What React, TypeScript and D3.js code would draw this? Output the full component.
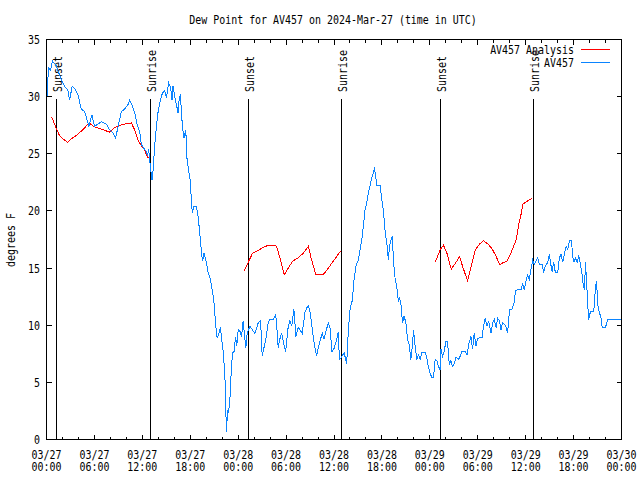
import React from 'react';
import * as d3 from 'd3';

const W = 640;
const H = 480;

const chartTitle = 'Dew Point for AV457 on 2024-Mar-27 (time in UTC)';
const yAxisLabel = 'degrees F';
const seriesNames = ['AV457 Analysis', 'AV457'];
const seriesColors = ['#ff0000', '#0a84ff'];

const xMajorTickHours = [0, 6, 12, 18, 24, 30, 36, 42, 48, 54, 60, 66, 72];
const xTickDates = ['03/27', '03/27', '03/27', '03/27', '03/28', '03/28', '03/28', '03/28', '03/29', '03/29', '03/29', '03/29', '03/30'];
const xTickTimes = ['00:00', '06:00', '12:00', '18:00', '00:00', '06:00', '12:00', '18:00', '00:00', '06:00', '12:00', '18:00', '00:00'];
const xMinorTickHours = d3.range(0, 73, 2);
const yTickValues = [0, 5, 10, 15, 20, 25, 30, 35];

const sunEventHours = [1.25, 13.0, 25.28, 36.95, 49.33, 60.98];
const sunEventLabels = ['Sunset', 'Sunrise', 'Sunset', 'Sunrise', 'Sunset', 'Sunrise'];

// AV457 observations: [hours since 03/27 00:00 UTC, dew point F]
const av457Obs: [number, number][] = [
  [0.0, 29.2], [0.25, 32.5], [0.5, 32.3], [0.75, 33.1], [1.0, 32.9], [1.22, 32.7], [1.84, 31.5], [2.26, 30.9],
  [2.67, 30.6], [2.89, 29.7], [3.22, 30.9], [3.55, 30.7], [3.93, 30.2], [4.35, 28.9], [4.77, 28.7], [5.06, 28.0],
  [5.31, 27.4], [5.68, 28.4], [6.02, 27.4], [6.44, 27.6], [6.86, 27.8], [7.2, 27.7], [7.49, 27.6], [7.9, 27.1],
  [8.32, 26.8], [8.66, 26.4], [8.94, 27.3], [9.37, 28.7], [9.78, 28.9], [10.2, 29.3], [10.41, 29.7], [10.75, 29.2],
  [11.04, 28.6], [11.33, 27.6], [11.67, 26.9], [11.88, 25.8], [12.17, 25.5], [12.51, 25.2], [12.63, 24.8], [12.79, 25.4],
  [13.01, 23.9], [13.21, 22.7], [13.33, 23.4], [13.55, 25.7], [13.76, 27.4], [13.96, 28.6], [14.26, 29.7], [14.51, 30.3],
  [14.8, 30.5], [15.01, 29.9], [15.3, 31.2], [15.55, 30.8], [15.72, 29.7], [15.84, 30.9], [16.14, 29.7], [16.27, 29.3],
  [16.47, 28.6], [16.6, 29.7], [16.77, 30.2], [16.9, 28.6], [17.02, 27.4], [17.22, 26.4], [17.44, 27.1], [17.6, 24.5],
  [17.81, 23.5], [18.03, 22.5], [18.15, 20.6], [18.28, 19.8], [18.44, 20.4], [18.78, 20.4], [18.98, 19.5], [19.19, 18.1],
  [19.41, 16.3], [19.53, 15.6], [19.73, 16.3], [20.03, 15.5], [20.23, 14.6], [20.53, 14.0], [20.74, 13.1], [20.95, 12.2],
  [21.2, 9.9], [21.36, 8.9], [21.61, 9.3], [21.79, 9.8], [21.91, 8.9], [22.12, 7.7], [22.33, 5.8], [22.45, 2.6],
  [22.54, 0.7], [22.67, 2.6], [22.79, 2.3], [22.96, 3.5], [23.12, 5.8], [23.29, 7.6], [23.5, 7.7], [23.67, 9.0],
  [23.83, 8.2], [24.0, 9.6], [24.21, 9.5], [24.42, 9.0], [24.62, 10.4], [24.96, 8.0], [25.13, 9.3], [25.46, 9.9],
  [25.88, 9.5], [26.09, 9.3], [26.51, 10.2], [26.81, 10.4], [27.01, 7.3], [27.22, 8.0], [27.47, 8.8], [27.76, 10.2],
  [27.97, 10.5], [28.39, 10.5], [28.69, 10.9], [28.81, 10.2], [29.01, 8.0], [29.14, 8.6], [29.44, 9.3], [29.64, 8.6],
  [29.94, 7.7], [30.27, 9.9], [30.48, 10.4], [30.7, 9.9], [30.98, 11.4], [31.23, 9.0], [31.52, 9.8], [31.82, 9.5],
  [32.02, 9.3], [32.36, 11.1], [32.58, 11.5], [32.78, 11.7], [32.99, 11.2], [33.2, 10.1], [33.4, 9.0], [33.62, 8.0],
  [33.83, 7.3], [34.03, 8.0], [34.24, 8.6], [34.53, 9.3], [34.75, 8.8], [35.0, 9.5], [35.29, 10.2], [35.5, 9.8],
  [35.75, 7.7], [36.04, 8.0], [36.34, 8.8], [36.54, 9.4], [36.67, 7.0], [36.88, 7.1], [37.09, 7.4], [37.26, 7.6],
  [37.47, 7.0], [37.59, 6.6], [37.8, 9.6], [38.01, 11.4], [38.3, 12.2], [38.51, 14.0], [38.76, 15.2], [39.05, 15.7],
  [39.26, 16.6], [39.48, 17.5], [39.68, 18.7], [39.89, 20.1], [40.1, 20.7], [40.3, 21.6], [40.52, 22.2], [40.73, 22.9],
  [40.93, 23.3], [41.06, 23.8], [41.23, 23.0], [41.36, 22.2], [41.77, 22.2], [41.99, 21.0], [42.19, 20.0], [42.4, 18.2],
  [42.61, 17.2], [42.81, 15.7], [42.94, 16.9], [43.15, 17.5], [43.31, 17.8], [43.44, 15.7], [43.65, 14.1], [43.87, 13.3],
  [44.07, 12.0], [44.19, 12.5], [44.41, 11.7], [44.57, 10.2], [44.78, 10.8], [45.0, 10.2], [45.2, 8.8], [45.41, 8.3],
  [45.62, 7.0], [45.82, 8.2], [45.95, 9.6], [46.16, 8.2], [46.38, 7.0], [46.58, 7.4], [46.79, 7.0], [47.0, 7.6],
  [47.42, 7.6], [47.63, 7.1], [47.83, 6.3], [48.04, 5.8], [48.26, 5.4], [48.46, 5.4], [48.67, 7.0], [48.88, 6.9],
  [49.08, 6.4], [49.29, 6.1], [49.39, 7.9], [49.59, 7.3], [49.8, 7.7], [50.01, 8.6], [50.21, 8.6], [50.43, 6.6],
  [50.64, 6.9], [50.84, 6.4], [51.09, 6.7], [51.27, 7.2], [51.59, 7.0], [51.81, 7.3], [52.02, 7.7], [52.43, 7.7],
  [52.65, 7.4], [52.93, 8.5], [53.15, 9.0], [53.35, 7.9], [53.56, 9.3], [53.78, 8.2], [53.98, 8.8], [54.19, 8.9],
  [54.53, 8.9], [54.73, 9.9], [54.94, 10.6], [55.16, 9.9], [55.36, 10.4], [55.66, 9.3], [55.86, 10.2], [56.07, 10.5],
  [56.29, 9.8], [56.49, 10.6], [56.7, 10.4], [56.91, 9.6], [57.11, 10.2], [57.33, 10.1], [57.58, 9.8], [57.74, 9.3],
  [57.87, 10.4], [57.99, 11.4], [58.29, 11.4], [58.58, 12.0], [58.71, 13.0], [58.92, 13.1], [59.42, 13.1], [59.62, 13.6],
  [59.83, 13.1], [60.05, 13.9], [60.25, 14.4], [60.46, 14.0], [60.67, 14.9], [60.88, 15.7], [61.09, 15.3], [61.3, 15.6],
  [61.5, 15.9], [61.72, 15.3], [62.05, 15.3], [62.26, 14.7], [62.47, 15.2], [62.76, 15.5], [62.97, 16.2], [63.18, 15.2],
  [63.31, 14.7], [63.51, 15.5], [63.72, 14.6], [64.01, 14.6], [64.22, 15.9], [64.44, 16.2], [64.64, 15.5], [64.85, 16.2],
  [65.06, 16.9], [65.27, 16.6], [65.48, 17.4], [65.73, 17.4], [65.89, 16.1], [66.02, 15.5], [66.23, 15.9], [66.44, 15.5],
  [66.65, 16.1], [66.86, 15.3], [67.07, 14.4], [67.2, 13.6], [67.36, 13.1], [67.49, 15.5], [67.61, 14.0], [67.78, 11.7],
  [67.9, 10.5], [68.11, 11.2], [68.53, 11.2], [68.74, 13.3], [68.87, 13.9], [69.03, 11.8], [69.24, 11.1], [69.46, 10.6],
  [69.58, 9.8], [69.99, 9.8], [70.28, 10.5], [71.88, 10.5],
];

// AV457 Analysis, one array per night
const analysisNight1: [number, number][] = [
  [0.66, 28.2], [1.0, 27.6], [1.29, 27.1], [1.63, 26.6], [2.04, 26.3], [2.67, 26.0], [3.1, 26.3], [3.73, 26.6],
  [4.55, 27.1], [5.31, 27.7], [5.9, 27.4], [6.65, 27.2], [7.49, 27.0], [7.9, 26.9], [8.53, 27.3], [9.16, 27.5],
  [9.78, 27.6], [10.62, 27.7], [11.04, 27.1], [11.45, 26.2], [11.88, 25.7], [12.29, 25.4], [12.51, 24.9], [12.79, 24.6],
];
const analysisNight2: [number, number][] = [
  [24.71, 14.7], [25.25, 15.5], [25.8, 16.3], [26.38, 16.5], [27.13, 16.8], [27.76, 17.0], [28.47, 17.0], [28.81, 16.9],
  [29.23, 15.9], [29.77, 14.4], [30.27, 15.0], [30.82, 15.6], [31.52, 15.9], [32.15, 16.3], [32.78, 16.9], [33.2, 15.7],
  [33.74, 14.4], [34.37, 14.4], [34.75, 14.5], [35.29, 15.0], [35.91, 15.6], [36.84, 16.5],
];
const analysisNight3: [number, number][] = [
  [48.67, 15.5], [49.3, 16.6], [49.71, 17.0], [50.14, 16.3], [50.68, 14.9], [51.18, 15.4], [51.72, 16.0], [52.22, 14.9],
  [52.72, 13.9], [53.19, 15.2], [53.69, 16.6], [54.23, 17.1], [54.73, 17.4], [55.28, 17.1], [55.78, 16.7], [56.32, 16.0],
  [56.74, 15.3], [57.24, 15.5], [57.67, 15.6], [58.08, 16.2], [58.49, 16.9], [58.83, 17.5], [59.12, 18.8], [59.42, 19.7],
  [59.67, 20.6], [60.08, 20.8], [60.5, 21.0], [60.8, 21.1],
];

const FONT = 'DejaVu Sans Mono';
const SX = 0.83;

function T(props: { x: number; y: number; rot?: number; anchor?: string; children: React.ReactNode }) {
  const { x, y, rot = 0, anchor = 'start', children } = props;
  return (
    <text
      transform={`translate(${x},${y}) rotate(${rot}) scale(${SX},1)`}
      textAnchor={anchor}
      fontFamily={FONT}
      fontSize={12}
      fill="#000"
    >
      {children}
    </text>
  );
}

export default function App() {
  const x = d3.scaleLinear().domain([0, 72]).range([46.5, 621.5]);
  const y = d3.scaleLinear().domain([0, 35]).range([439.5, 39.5]);
  const line = d3
    .line<[number, number]>()
    .x((d) => x(d[0]))
    .y((d) => y(d[1]));

  const left = x(0);
  const right = x(72);
  const top = y(35);
  const bottom = y(0);
  const major = 5;
  const minor = 3;

  return (
    <svg
      width={W}
      height={H}
      viewBox={`0 0 ${W} ${H}`}
      style={{ position: 'absolute', left: 0, top: 0, background: '#fff' }}
    >
      <rect x={0} y={0} width={W} height={H} fill="#fff" />
      <T x={333} y={24} anchor="middle">{chartTitle}</T>
      <T x={15} y={240} rot={-90} anchor="middle">{yAxisLabel}</T>

      <g shapeRendering="crispEdges" stroke="#000" strokeWidth={1}>
        {yTickValues.map((v) => (
          <g key={'y' + v}>
            <line x1={left} x2={left + major} y1={y(v)} y2={y(v)} />
            <line x1={right} x2={right - major} y1={y(v)} y2={y(v)} />
          </g>
        ))}
        {xMinorTickHours.map((h) => (
          <g key={'m' + h}>
            <line x1={x(h)} x2={x(h)} y1={bottom} y2={bottom - minor} />
            <line x1={x(h)} x2={x(h)} y1={top} y2={top + minor} />
          </g>
        ))}
        {xMajorTickHours.map((h) => (
          <g key={'M' + h}>
            <line x1={x(h)} x2={x(h)} y1={bottom} y2={bottom - major} />
            <line x1={x(h)} x2={x(h)} y1={top} y2={top + major} />
          </g>
        ))}
        {sunEventHours.map((h, i) => (
          <line key={'s' + i} x1={x(h)} x2={x(h)} y1={bottom} y2={99} />
        ))}
      </g>

      {yTickValues.map((v) => (
        <T key={'yl' + v} x={40} y={y(v) + 4.5} anchor="end">{String(v)}</T>
      ))}
      {xMajorTickHours.map((h, i) => (
        <g key={'xl' + h}>
          <T x={x(h)} y={459} anchor="middle">{xTickDates[i]}</T>
          <T x={x(h)} y={471} anchor="middle">{xTickTimes[i]}</T>
        </g>
      ))}
      {sunEventHours.map((h, i) => (
        <T key={'sl' + i} x={x(h) + 5.5} y={92} rot={-90}>{sunEventLabels[i]}</T>
      ))}

      <g fill="none" strokeWidth={1} shapeRendering="crispEdges">
        {[analysisNight1, analysisNight2, analysisNight3].map((seg, i) => (
          <path key={'a' + i} d={line(seg) || ''} stroke={seriesColors[0]} />
        ))}
        <path d={line(av457Obs) || ''} stroke={seriesColors[1]} />
      </g>

      <rect
        x={left}
        y={top}
        width={right - left}
        height={bottom - top}
        fill="none"
        stroke="#000"
        strokeWidth={1}
        shapeRendering="crispEdges"
      />

      <T x={574} y={54} anchor="end">{seriesNames[0]}</T>
      <line x1={581} x2={610} y1={49.5} y2={49.5} stroke={seriesColors[0]} shapeRendering="crispEdges" />
      <T x={574} y={66.5} anchor="end">{seriesNames[1]}</T>
      <line x1={581} x2={610} y1={62.5} y2={62.5} stroke={seriesColors[1]} shapeRendering="crispEdges" />
    </svg>
  );
}
